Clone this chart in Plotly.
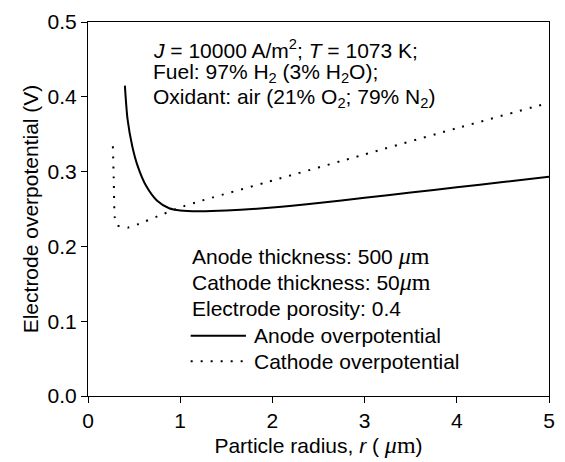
import plotly.graph_objects as go

# ---- data ----
anode_r = [0.40, 0.43, 0.48, 0.54, 0.63, 0.75, 0.88, 1.0, 1.2, 1.5, 2.0, 2.5, 3.0, 3.5, 4.0, 4.5, 5.0]
anode_v = [0.415, 0.369, 0.334, 0.307, 0.281, 0.261, 0.251, 0.248, 0.247, 0.248, 0.252, 0.258,
           0.265, 0.272, 0.279, 0.286, 0.293]

cathode_r = [0.27, 0.28, 0.29, 0.32, 0.43, 0.55, 0.77, 1.0, 1.2, 2.0, 3.0, 4.0, 5.0]
cathode_v = [0.334, 0.285, 0.239, 0.228, 0.225, 0.230, 0.241, 0.252, 0.260, 0.288, 0.323, 0.358, 0.392]

x_ticks = [0, 1, 2, 3, 4, 5]
y_ticks = [0.0, 0.1, 0.2, 0.3, 0.4, 0.5]

anode_name = "Anode overpotential"
cathode_name = "Cathode overpotential"

# ---- layout geometry ----
W, H = 565, 462
L, R, T, B = 88, 10, 21, 63
PW, PH = W - L - R, H - T - B

def px(x):
    return (x - L) / PW

def py(y):
    return 1 - (y - T) / PH

FONT = "Liberation Sans, Arial, sans-serif"
SERIF = "Liberation Serif, Times New Roman, serif"
MU = f"<span style='font-family:{SERIF};font-size:24px'><i>μ</i>m</span>"
FS = 21

fig = go.Figure()
fig.add_trace(go.Scatter(x=anode_r, y=anode_v, mode="lines", name=anode_name,
                         line=dict(color="black", width=2, shape="spline", smoothing=0.8),
                         showlegend=False))
fig.add_trace(go.Scatter(x=cathode_r, y=cathode_v, mode="lines", name=cathode_name,
                         line=dict(color="black", width=2, dash="2px,8px", shape="spline", smoothing=0.4),
                         showlegend=False))

annos = []
top_lines = [
    "<i>J</i> = 10000 A/m<sup>2</sup>; <i>T</i> = 1073 K;",
    "Fuel: 97% H<sub>2</sub> (3% H<sub>2</sub>O);",
    "Oxidant: air (21% O<sub>2</sub>; 79% N<sub>2</sub>)",
]
for i, t in enumerate(top_lines):
    annos.append(dict(text=t, x=px(152), y=py(48 + 25 * i), xref="paper", yref="paper",
                      xanchor="left", yanchor="middle", showarrow=False,
                      font=dict(size=FS, family=FONT, color="black")))

bot_lines = [
    f"Anode thickness: 500 {MU}",
    f"Cathode thickness: 50{MU}",
    "Electrode porosity: 0.4",
]
for i, t in enumerate(bot_lines):
    annos.append(dict(text=t, x=px(191), y=py(257 + 27 * i), xref="paper", yref="paper",
                      xanchor="left", yanchor="middle", showarrow=False,
                      font=dict(size=FS, family=FONT, color="black")))

for i, nm in enumerate([anode_name, cathode_name]):
    annos.append(dict(text=nm, x=px(254), y=py(338 + 26 * i), xref="paper", yref="paper",
                      xanchor="left", yanchor="middle", showarrow=False,
                      font=dict(size=FS, family=FONT, color="black")))

shapes = [
    dict(type="line", xref="paper", yref="paper", x0=px(192), x1=px(248), y0=py(338), y1=py(338),
         line=dict(color="black", width=2)),
    dict(type="line", xref="paper", yref="paper", x0=px(192), x1=px(246), y0=py(364), y1=py(364),
         line=dict(color="black", width=2, dash="2px,8px")),
]

axis_common = dict(showline=True, linecolor="black", linewidth=1, mirror=True,
                   ticks="outside", ticklen=6, tickwidth=1, tickcolor="black",
                   showgrid=False, zeroline=False,
                   tickfont=dict(size=FS, family=FONT, color="black"))

fig.update_layout(
    width=W, height=H,
    margin=dict(l=L, r=R, t=T, b=B),
    paper_bgcolor="white", plot_bgcolor="white",
    font=dict(family=FONT, color="black"),
    xaxis=dict(range=[0, 5], tickvals=x_ticks, ticktext=[str(v) for v in x_ticks],
               title=dict(text=f"Particle radius, <i>r</i> ( {MU})",
                          font=dict(size=FS, family=FONT, color="black"), standoff=5),
               **axis_common),
    yaxis=dict(range=[0, 0.5], tickvals=y_ticks, ticktext=[f"{v:.1f}" for v in y_ticks],
               title=dict(text="Electrode overpotential (V)",
                          font=dict(size=FS, family=FONT, color="black"), standoff=3),
               **axis_common),
    annotations=annos,
    shapes=shapes,
    showlegend=False,
)

fig.write_html("out.html")
